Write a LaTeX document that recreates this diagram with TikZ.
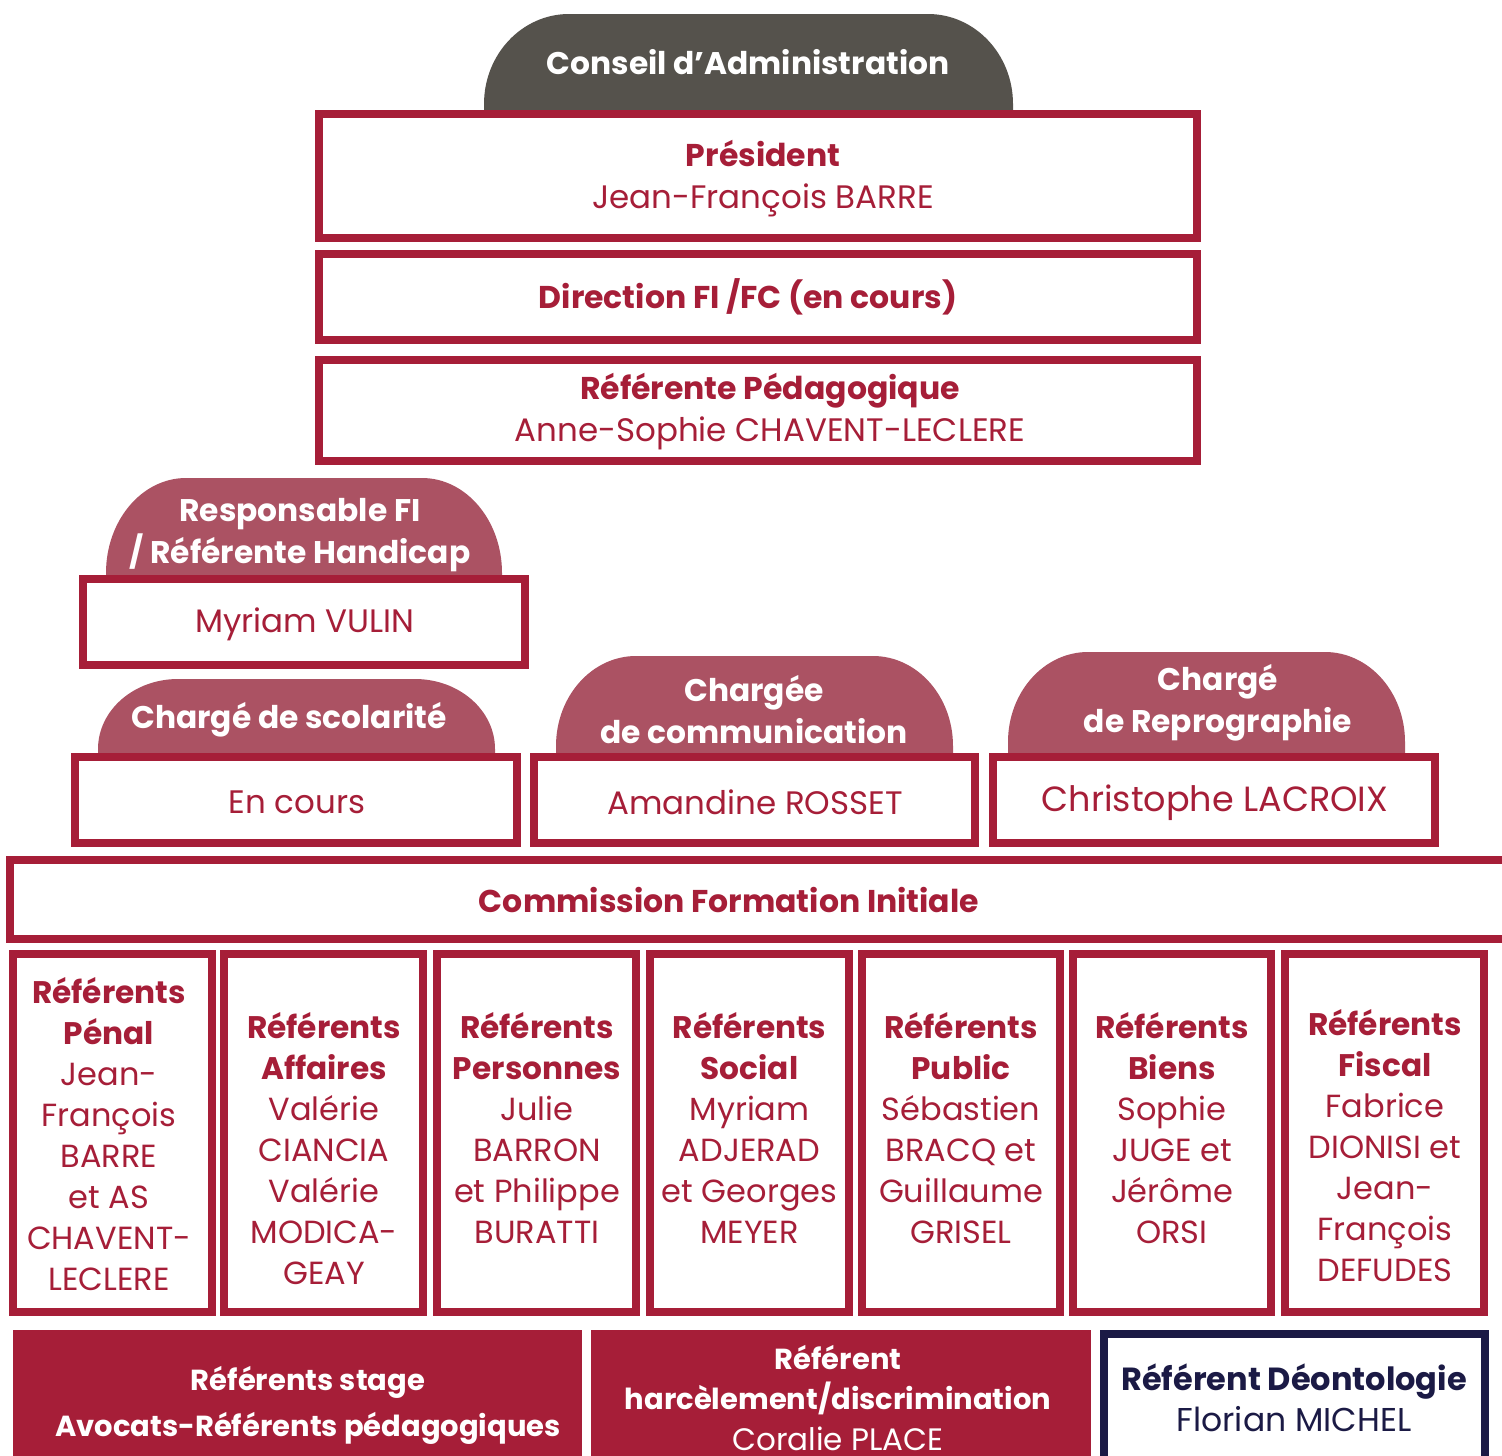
\documentclass[tikz,border=0pt]{standalone}
\usepackage{fontspec}
\setmainfont{Poppins}
\definecolor{crim}{HTML}{A61E38}
\definecolor{pillc}{HTML}{AB5263}
\definecolor{grayc}{HTML}{55524C}
\definecolor{navy}{HTML}{1B1A45}
\newcommand\Bf[1]{{\fontsize{31.5}{42}\selectfont\bfseries #1}}
\newcommand\Cb[1]{{\fontsize{31.2}{41}\selectfont\bfseries #1}}
\tikzset{
  frame/.style={draw=crim, line width=8pt, fill=white},
  lbl/.style={font=\fontsize{31.3}{42}\selectfont\bfseries, text=white, align=center, inner sep=0pt},
  txt/.style={font=\fontsize{32.5}{42}\selectfont, text=crim, align=center, inner sep=0pt},
  coltxt/.style={font=\fontsize{32}{41}\selectfont, text=crim, align=center, inner sep=0pt},
}
\newcommand\frbox[4]{\draw[frame] ({#1+4},{#2+4}) rectangle ({#3-4},{#4-4});}
\newcommand\drawpill[7]{\fill[#7] (#1,#4) -- (#1,{#2+#6}) arc[start angle=180,end angle=90,x radius=#5pt,y radius=#6pt] -- ({#3-#5},#2) arc[start angle=90,end angle=0,x radius=#5pt,y radius=#6pt] -- (#3,#4) -- cycle;}
\begin{document}
\begin{tikzpicture}[x=1pt,y=-1pt]
\useasboundingbox (0,0) rectangle (1502,1456);
\clip (0,0) rectangle (1502,1456);
% top block
\drawpill{484}{14}{1013}{140}{85}{90}{grayc}
\node[lbl] (conseil) at (748,62) {Conseil d’Administration};
\frbox{315}{110}{1201}{242}
\node[txt] (pres) at (763,179) {\Bf{Président}\\Jean-François BARRE};
\frbox{315}{250}{1201}{344}
\node[txt] (dir) at (748,297) {\Bf{Direction FI /FC (en cours)}};
\frbox{315}{356}{1201}{465}
\node[txt] (refped) at (770,411.5) {\Bf{Référente Pédagogique}\\Anne-Sophie CHAVENT-LECLERE};
% responsable FI
\drawpill{106}{478}{502}{600}{80}{95}{pillc}
\node[lbl] (resp) at (300,535) {Responsable FI\\/ Référente Handicap};
\frbox{79}{575}{529}{669}
\node[txt] (vulin) at (305,624) {Myriam VULIN};
% scolarite
\drawpill{98}{679}{495}{770}{80}{70}{pillc}
\node[lbl] (scol) at (289,720) {Chargé de scolarité};
\frbox{71}{753}{521}{847}
\node[txt] (encours) at (297,802) {En cours};
% communication
\drawpill{556}{656}{953}{770}{80}{90}{pillc}
\node[lbl] (comm) at (754,710) {Chargée\\de communication};
\frbox{530}{753}{979}{847}
\node[txt] (rosset) at (755,802) {Amandine ROSSET};
% reprographie
\drawpill{1008}{652}{1405}{770}{80}{90}{pillc}
\node[lbl] (repro) at (1218,702.5) {Chargé\\de Reprographie};
\frbox{989}{753}{1439}{847}
\node[txt, font=\fontsize{35}{42}\selectfont] (lacroix) at (1215,803) {Christophe LACROIX};
% commission
\frbox{6}{856}{1520}{943}
\node[txt] (commission) at (729,900) {\Bf{Commission Formation Initiale}};
% columns
\frbox{9}{950}{216}{1316}
\frbox{220}{950}{427}{1316}
\frbox{433}{950}{640}{1316}
\frbox{646}{950}{853}{1316}
\frbox{858}{950}{1064}{1316}
\frbox{1069}{950}{1275}{1316}
\frbox{1281}{950}{1488}{1316}
\node[coltxt] (penal) at (109,1134.5) {\Cb{Référents}\\\Cb{Pénal}\\Jean-\\François\\BARRE\\et AS\\CHAVENT-\\LECLERE};
\node[coltxt] (affaires) at (324,1148.5) {\Cb{Référents}\\\Cb{Affaires}\\Valérie\\CIANCIA\\Valérie\\MODICA-\\GEAY};
\node[coltxt] (personnes) at (537,1128) {\Cb{Référents}\\\Cb{Personnes}\\Julie\\BARRON\\et Philippe\\BURATTI};
\node[coltxt] (social) at (749.5,1128) {\Cb{Référents}\\\Cb{Social}\\Myriam\\ADJERAD\\et Georges\\MEYER};
\node[coltxt] (public) at (961,1128) {\Cb{Référents}\\\Cb{Public}\\Sébastien\\BRACQ et\\Guillaume\\GRISEL};
\node[coltxt] (biens) at (1172,1128) {\Cb{Référents}\\\Cb{Biens}\\Sophie\\JUGE et\\Jérôme\\ORSI};
\node[coltxt] (fiscal) at (1385,1146) {\Cb{Référents}\\\Cb{Fiscal}\\Fabrice\\DIONISI et\\Jean-\\François\\DEFUDES};
% bottom row
\fill[crim] (13,1330) rectangle (582,1470);
\node[lbl, font=\fontsize{29}{46}\selectfont\bfseries] (stage) at (308,1405) {Référents stage\\Avocats-Référents pédagogiques};
\fill[crim] (591,1330) rectangle (1091,1470);
\node[lbl, font=\fontsize{29}{40.5}\selectfont] (harc) at (838,1398) {\textbf{Référent}\\\textbf{harcèlement/discrimination}\\{\fontsize{31}{40.5}\selectfont Coralie PLACE}};
\draw[draw=navy, line width=8pt, fill=white] (1104,1334) rectangle (1485,1480);
\node[txt, text=navy, font=\fontsize{33}{41}\selectfont] (deon) at (1294,1397.5) {{\fontsize{32}{41}\selectfont\bfseries Référent Déontologie}\\Florian MICHEL};
\end{tikzpicture}
\end{document}
